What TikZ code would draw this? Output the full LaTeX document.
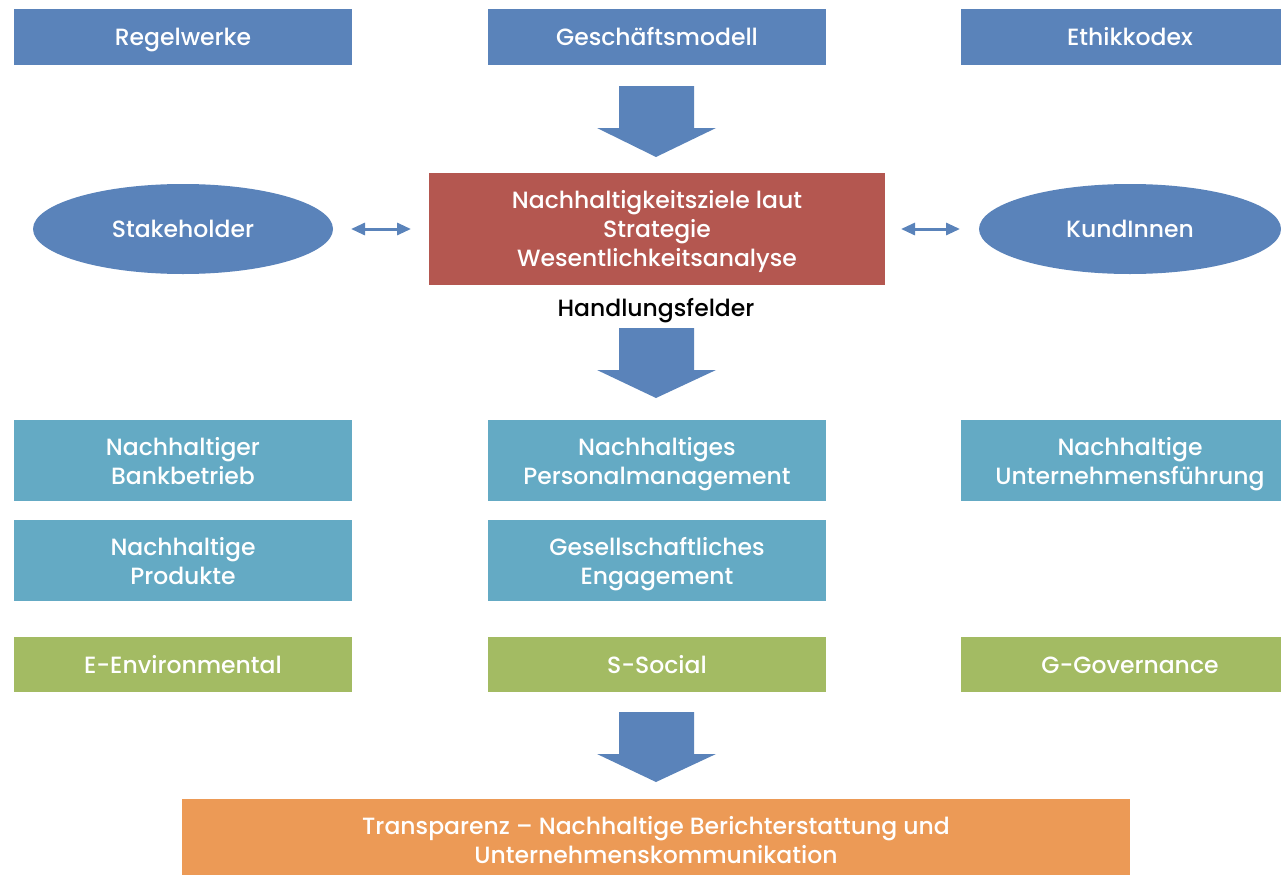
\documentclass[tikz,border=0pt]{standalone}
\usepackage{fontspec}
\setmainfont{Poppins Medium}
\usetikzlibrary{arrows.meta,shapes.geometric}
\definecolor{cblue}{HTML}{5A83BA}
\definecolor{cred}{HTML}{B45750}
\definecolor{cteal}{HTML}{64AAC4}
\definecolor{cgreen}{HTML}{A3BB63}
\definecolor{corange}{HTML}{EC9A56}
\tikzset{
  box/.style={draw=none,inner sep=0pt,align=center,text=white,font=\fontsize{23.5}{29}\selectfont,text height=17pt,text depth=0pt},
  two/.style={text height=48pt},
  three/.style={text height=75pt},
  bigarrow/.style={fill=cblue,draw=none},
  dbl/.style={{Triangle[length=14pt,width=12pt]}-{Triangle[length=14pt,width=12pt]},line width=3pt,draw=cblue}
}
\begin{document}
\begin{tikzpicture}[x=1pt,y=-1pt]
\useasboundingbox (0,0) rectangle (1281,875);
% top row
\node[box,fill=cblue,minimum width=338pt,minimum height=56pt] (regel) at (183,37) {Regelwerke};
\node[box,fill=cblue,minimum width=338pt,minimum height=56pt] (gesch) at (657,37) {Geschäftsmodell};
\node[box,fill=cblue,minimum width=338pt,minimum height=56pt] (ethik) at (1130,37) {Ethikkodex};
% arrow 1
\fill[bigarrow] (619,86) -- (694,86) -- (694,128) -- (716,128) -- (656,157) -- (597,128) -- (619,128) -- cycle;
% centre
\node[box,three,fill=cred,minimum width=456pt,minimum height=112pt] (ziel) at (657,229) {Nachhaltigkeitsziele laut\\Strategie\\Wesentlichkeitsanalyse};
\node[box,ellipse,fill=cblue,minimum width=300pt,minimum height=90pt] (stake) at (183,229) {Stakeholder};
\node[box,ellipse,fill=cblue,minimum width=302pt,minimum height=90pt] (kund) at (1130,229) {KundInnen};
\coordinate (sa) at (351,229); \coordinate (sb) at (411,229);
\coordinate (ka) at (901,229); \coordinate (kb) at (960,229);
\draw[dbl] (sa) -- (sb);
\draw[dbl] (ka) -- (kb);
\node[font=\fontsize{23.5}{29}\selectfont,text=black,inner sep=0pt,text height=17pt,text depth=0pt] (hand) at (656,308) {Handlungsfelder};
% arrow 2
\fill[bigarrow] (619,328) -- (694,328) -- (694,370) -- (716,370) -- (656,398) -- (597,370) -- (619,370) -- cycle;
% teal rows
\node[box,two,fill=cteal,minimum width=338pt,minimum height=81pt] (bank) at (183,460.5) {Nachhaltiger\\Bankbetrieb};
\node[box,two,fill=cteal,minimum width=338pt,minimum height=81pt] (pers) at (657,460.5) {Nachhaltiges\\Personalmanagement};
\node[box,two,fill=cteal,minimum width=338pt,minimum height=81pt] (unt) at (1130,460.5) {Nachhaltige\\Unternehmensführung};
\node[box,two,fill=cteal,minimum width=338pt,minimum height=81pt] (prod) at (183,560.5) {Nachhaltige\\Produkte};
\node[box,two,fill=cteal,minimum width=338pt,minimum height=81pt] (ges) at (657,560.5) {Gesellschaftliches\\Engagement};
% green row
\node[box,fill=cgreen,minimum width=338pt,minimum height=55pt] (env) at (183,664.5) {E-Environmental};
\node[box,fill=cgreen,minimum width=338pt,minimum height=55pt] (soc) at (657,664.5) {S-Social};
\node[box,fill=cgreen,minimum width=338pt,minimum height=55pt] (gov) at (1130,664.5) {G-Governance};
% arrow 3
\fill[bigarrow] (619,712) -- (694,712) -- (694,754) -- (716,754) -- (656,782) -- (597,754) -- (619,754) -- cycle;
% bottom
\node[box,two,text height=53pt,fill=corange,minimum width=948pt,minimum height=76pt] (trans) at (656,837) {Transparenz – Nachhaltige Berichterstattung und\\Unternehmenskommunikation};
\end{tikzpicture}
\end{document}
